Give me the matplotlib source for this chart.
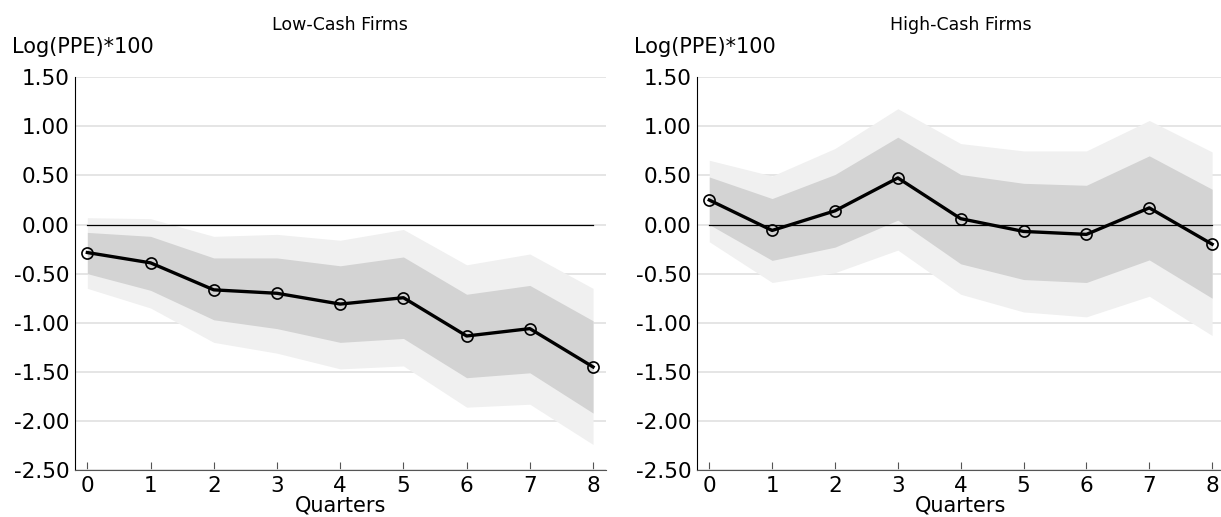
"""Impulse responses of PPE for low- and high-cash firms"""

import matplotlib
matplotlib.use("Agg")
import matplotlib.pyplot as plt
import numpy as np


QUARTERS = [0, 1, 2, 3, 4, 5, 6, 7, 8]

# Low-cash firms
LOW_POINT = [-0.285, -0.39, -0.665, -0.70, -0.81, -0.745, -1.135, -1.06, -1.45]
LOW_IN_UP = [-0.08, -0.12, -0.34, -0.34, -0.42, -0.33, -0.71, -0.62, -0.98]
LOW_IN_LO = [-0.50, -0.67, -0.97, -1.06, -1.20, -1.16, -1.56, -1.51, -1.92]
LOW_OUT_UP = [0.07, 0.06, -0.12, -0.10, -0.16, -0.05, -0.41, -0.30, -0.65]
LOW_OUT_LO = [-0.65, -0.85, -1.20, -1.31, -1.47, -1.44, -1.86, -1.83, -2.24]

# High-cash firms
HIGH_POINT = [0.25, -0.06, 0.14, 0.475, 0.06, -0.07, -0.10, 0.17, -0.20]
HIGH_IN_UP = [0.485, 0.265, 0.51, 0.89, 0.51, 0.42, 0.40, 0.70, 0.36]
HIGH_IN_LO = [0.00, -0.365, -0.23, 0.045, -0.40, -0.56, -0.59, -0.36, -0.75]
HIGH_OUT_UP = [0.655, 0.495, 0.775, 1.18, 0.825, 0.75, 0.75, 1.06, 0.74]
HIGH_OUT_LO = [-0.175, -0.59, -0.49, -0.26, -0.71, -0.89, -0.94, -0.73, -1.13]

TITLES = ["Low-Cash Firms", "High-Cash Firms"]
Y_TICKS = [1.5, 1.0, 0.5, 0.0, -0.5, -1.0, -1.5, -2.0, -2.5]


def draw_panel(fig, ax, title, point, in_up, in_lo, out_up, out_lo):
    """
    one panel
    """
    x = np.array(QUARTERS)
    ax.fill_between(x, out_lo, out_up, color="#f0f0f0", lw=0, zorder=1)
    ax.fill_between(x, in_lo, in_up, color="#d3d3d3", lw=0, zorder=2)
    ax.plot([x[0], x[-1]], [0, 0], color="black", lw=0.9, zorder=3)
    ax.plot(x, point, color="black", lw=2.4, marker="o", ms=8,
            mfc="none", mec="black", mew=1.2, zorder=4)

    ax.set_xlim(-0.2, 8.2)
    ax.set_ylim(-2.5, 1.5)
    ax.set_xticks(QUARTERS)
    ax.set_yticks(Y_TICKS)
    ax.set_yticklabels([f"{v:.2f}" for v in Y_TICKS])
    ax.yaxis.grid(True, color="#e0e0e0", lw=1.2, zorder=0)
    ax.set_axisbelow(True)

    ax.spines["top"].set_visible(False)
    ax.spines["right"].set_visible(False)
    ax.spines["left"].set_color("black")
    ax.spines["bottom"].set_color("#555555")
    ax.tick_params(axis="y", length=0, pad=4, labelsize=15.5)
    ax.tick_params(axis="x", direction="in", length=6, color="#555555",
                   pad=4, labelsize=15.5)
    ax.set_xlabel("Quarters", fontsize=15, labelpad=0)

    pos = ax.get_position()
    fig.text((pos.x0 + pos.x1) / 2, 1 - 25 / 517, title, ha="center",
             va="center", fontsize=12.5)
    fig.text(pos.x0 - 63 / 1221, 1 - 47 / 517, "Log(PPE)*100", ha="left",
             va="center", fontsize=15)


def main():
    """
    Main
    """
    fig = plt.figure(figsize=(12.21, 5.17), dpi=100)
    ax1 = fig.add_axes([74.7 / 1221, 47 / 517, 531 / 1221, 392.7 / 517])
    ax2 = fig.add_axes([696.7 / 1221, 47 / 517, 528 / 1221, 392.7 / 517])

    draw_panel(fig, ax1, TITLES[0], LOW_POINT, LOW_IN_UP, LOW_IN_LO,
               LOW_OUT_UP, LOW_OUT_LO)
    draw_panel(fig, ax2, TITLES[1], HIGH_POINT, HIGH_IN_UP, HIGH_IN_LO,
               HIGH_OUT_UP, HIGH_OUT_LO)

    fig.savefig("out.png", dpi=100)


main()
